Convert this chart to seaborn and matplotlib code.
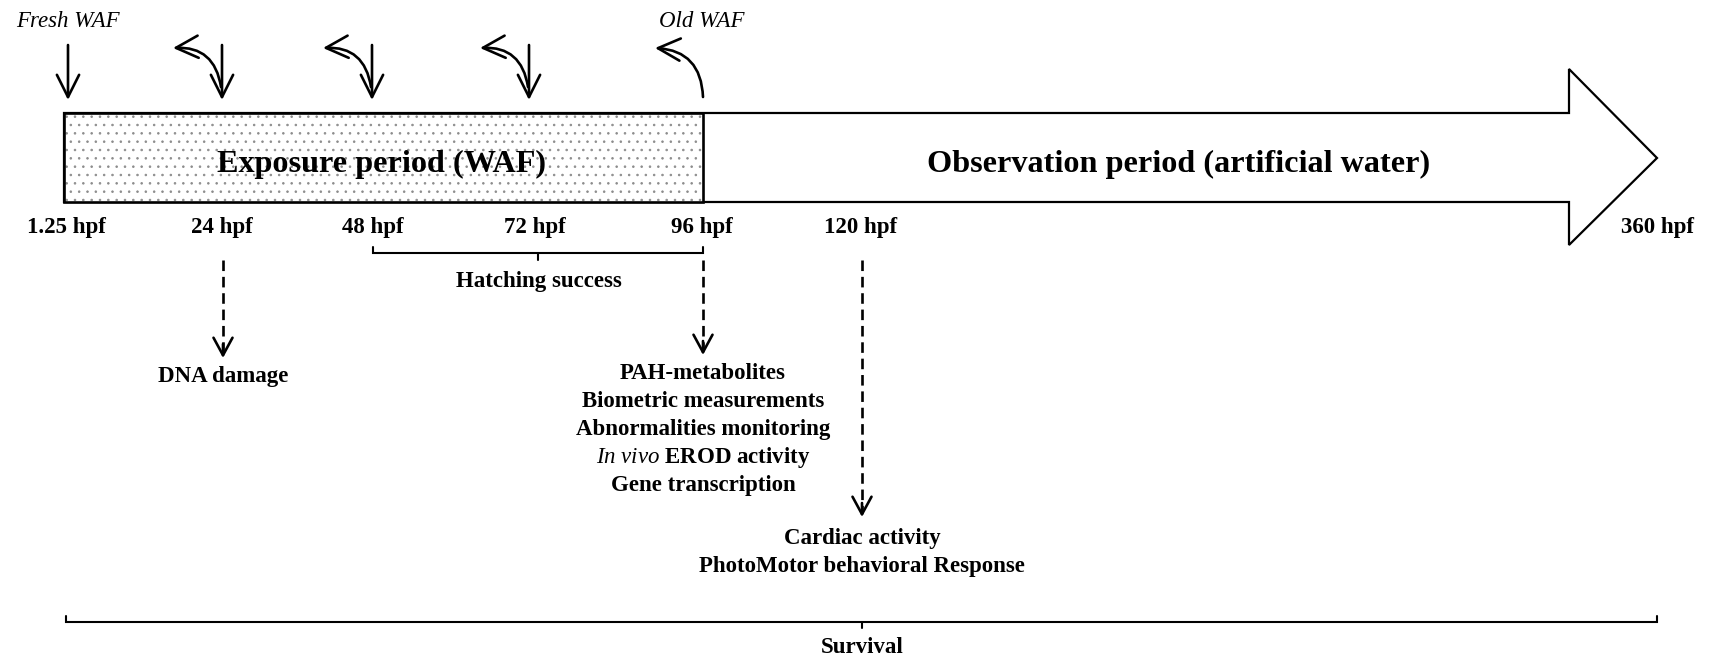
import matplotlib
matplotlib.use("Agg")
import matplotlib.pyplot as plt
from matplotlib.patches import Polygon, Rectangle, FancyArrowPatch
import seaborn as sns

# ---------------- data ----------------
timepoint_labels = ["1.25 hpf", "24 hpf", "48 hpf", "72 hpf", "96 hpf", "120 hpf", "360 hpf"]
timepoint_x = [66, 222, 373, 535, 702, 861, 1658]

renewal_x = [68, 222, 372, 529]          # fresh WAF additions
removal_x = [222, 372, 529, 704]         # old WAF removals
exposure_label = "Exposure period (WAF)"
observation_label = "Observation period (artificial water)"

hatching_span = (373, 703)
hatching_label = "Hatching success"

endpoint_x = [223, 703, 862]
endpoint_arrow_end = [358, 355, 517]
endpoint_text = [
    ["DNA damage"],
    ["PAH-metabolites", "Biometric measurements", "Abnormalities monitoring",
     r"$\mathit{In\ vivo}$ EROD activity", "Gene transcription"],
    ["Cardiac activity", "PhotoMotor behavioral Response"],
]
endpoint_baseline = [382, 379, 544]

survival_span = (66, 1657)
survival_label = "Survival"

# ---------------- style ----------------
sns.set_theme(style="white")
plt.rcParams["font.family"] = ["Liberation Serif", "DejaVu Serif"]
plt.rcParams["text.color"] = "black"
plt.rcParams["mathtext.fontset"] = "custom"
plt.rcParams["mathtext.it"] = "Liberation Serif:italic"
plt.rcParams["mathtext.rm"] = "Liberation Serif:bold"
plt.rcParams["hatch.linewidth"] = 0.6

W, H = 1711, 661
fig = plt.figure(figsize=(W / 100, H / 100), dpi=100)
ax = fig.add_axes([0, 0, 1, 1])
ax.set_xlim(0, W)
ax.set_ylim(H, 0)
ax.axis("off")

small = 16.5
big = 23.2

# big arrow (observation)
y_top, y_bot = 113, 202
head_x, tip_x, head_top, head_bot = 1569, 1657, 69, 245
arrow_poly = Polygon([(64, y_top), (head_x, y_top), (head_x, head_top), (tip_x, (y_top + y_bot) / 2 + 0.5),
                      (head_x, head_bot), (head_x, y_bot), (64, y_bot)],
                     closed=True, facecolor="white", edgecolor="black", lw=1.6, joinstyle="miter")
ax.add_patch(arrow_poly)

# exposure box with dotted texture
ax.add_patch(Rectangle((64, y_top), 703 - 64, y_bot - y_top, facecolor="white",
                       edgecolor="#8c8c8c", hatch="..", lw=0))
ax.add_patch(Rectangle((64, y_top), 703 - 64, y_bot - y_top, facecolor="none",
                       edgecolor="black", lw=1.9))

ax.text(382, 172, exposure_label, ha="center", va="baseline", fontsize=big, fontweight="bold")
ax.text(1179, 172, observation_label, ha="center", va="baseline", fontsize=big, fontweight="bold")

# time labels
for lab, x in zip(timepoint_labels, timepoint_x):
    ax.text(x, 233, lab, ha="center", va="baseline", fontsize=small, fontweight="bold")

# top arrows
astyle = "->,head_length=0.8,head_width=0.4"
for x in renewal_x:
    ax.add_patch(FancyArrowPatch((x, 45), (x, 100), arrowstyle=astyle, mutation_scale=20,
                                 lw=1.9, color="black", shrinkA=0, shrinkB=0))
for x in removal_x:
    start_y = 97 if x == removal_x[-1] else 87
    ax.add_patch(FancyArrowPatch((x - 1, start_y), (x - 49, 48), arrowstyle=astyle, mutation_scale=20,
                                 connectionstyle="arc3,rad=0.45", lw=1.9, color="black",
                                 shrinkA=0, shrinkB=0))
ax.text(68, 27, "Fresh WAF", ha="center", va="baseline", fontsize=small, fontstyle="italic")
ax.text(702, 27, "Old WAF", ha="center", va="baseline", fontsize=small, fontstyle="italic")

# hatching bracket
x0, x1 = hatching_span
xm = (x0 + x1) / 2 + 0.5
ax.plot([x0, x0, x1, x1], [247, 253, 253, 247], color="black", lw=1.5, solid_joinstyle="miter")
ax.plot([xm, xm], [253, 260], color="black", lw=1.5)
ax.text(xm, 287, hatching_label, ha="center", va="baseline", fontsize=small, fontweight="bold")

# endpoints with dashed arrows
for x, yend, lines, base in zip(endpoint_x, endpoint_arrow_end, endpoint_text, endpoint_baseline):
    ax.plot([x, x], [260, yend - 4], color="black", lw=1.9, linestyle=(0, (4, 2.2)))
    ax.add_patch(FancyArrowPatch((x, yend - 14), (x, yend), arrowstyle="->,head_length=0.7,head_width=0.38",
                                 mutation_scale=18, lw=1.9, color="black", shrinkA=0, shrinkB=0))
    for i, line in enumerate(lines):
        ax.text(x, base + 28 * i, line, ha="center", va="baseline", fontsize=small, fontweight="bold")

# survival bracket
s0, s1 = survival_span
sm = 862
ax.plot([s0, s0, s1, s1], [616, 622, 622, 616], color="black", lw=1.5, solid_joinstyle="miter")
ax.plot([sm, sm], [622, 628], color="black", lw=1.5)
ax.text(sm, 653, survival_label, ha="center", va="baseline", fontsize=small, fontweight="bold")

fig.savefig("out.png", dpi=100, facecolor="white")
